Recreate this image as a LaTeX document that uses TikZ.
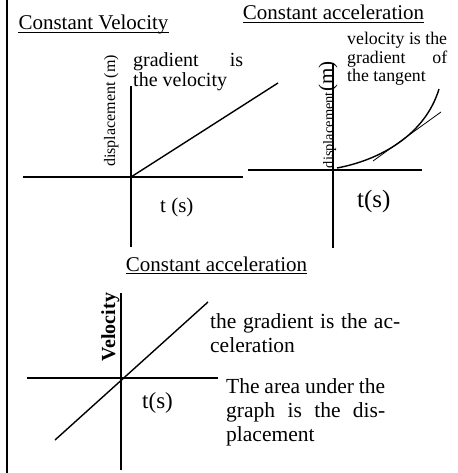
\documentclass[tikz,border=0pt]{standalone}
\usepackage{fontspec}
\setmainfont{Liberation Serif}
\usetikzlibrary{positioning}
\newcommand{\fs}[1]{\fontsize{#1}{#1}\selectfont}
\newcommand{\fillline}[2]{\hbox to #1{#2}}
\tikzset{
  title/.style={inner sep=0pt, anchor=base, font=\fs{21}},
  note/.style={inner sep=0pt, anchor=base west, align=left, font=\fs{#1}},
  note/.default={20},
  axlabel/.style={inner sep=0pt, anchor=base west, font=\fs{#1}},
  axlabel/.default={21},
  vlabel/.style={inner sep=0pt, anchor=base, rotate=90, font=\fs{#1}},
  vlabel/.default={16},
  uline/.style={line width=0.9pt},
  axis/.style={line width=1.8pt},
  graph/.style={line width=1.4pt},
  tangent/.style={line width=0.8pt}
}
\begin{document}
\begin{tikzpicture}[x=1pt,y=-1pt]
  \useasboundingbox (0,0) rectangle (457,473);
  \draw[line width=2.5pt] (7,0) -- (7,473);
  % constant velocity
  \node[title] (t1) at (93.5,30) {Constant Velocity};
  \draw[uline] ([yshift=-2.5pt]t1.base west) -- ([yshift=-2.5pt]t1.base east);
  \draw[axis] (23,177) -- (243,177);
  \draw[axis] (131,86) -- (131,247);
  \draw[graph] (131,177) -- (278,83);
  \node[vlabel] (d1) at (115,111) {displacement (m)};
  \node[note] (n1) at (133,87) {\fillline{110pt}{gradient\hfill is}\\the velocity};
  \node[axlabel] (x1) at (160,212) {t (s)};
  % constant acceleration, displacement
  \node[title] (t2) at (333.5,20) {Constant acceleration};
  \draw[uline] ([yshift=-2.5pt]t2.base west) -- ([yshift=-2.5pt]t2.base east);
  \draw[axis] (248,170) -- (422,170);
  \draw[axis] (333,63) -- (333,248);
  \draw[graph] (337,168) .. controls (380,160) and (425,135) .. (439,89);
  \draw[tangent] (373,161) -- (441,112);
  \node[vlabel, anchor=base east, font=\fs{14.4}] (d2) at (333,92) {displacement};
  \node[vlabel, anchor=base west, font=\fs{21}] (m2) at (d2.base east) {(m)};
  \node[note=17.8] (n2) at (347,82) {velocity is the\\[0.7pt]\fillline{100pt}{gradient\hfill of}\\[0.7pt]the tangent};
  \node[axlabel=25] (x2) at (357,207) {t(s)};
  % constant acceleration, velocity
  \node[title] (t3) at (216.5,271) {Constant acceleration};
  \draw[uline] ([yshift=-2.5pt]t3.base west) -- ([yshift=-2.5pt]t3.base east);
  \draw[axis] (27,378) -- (218,378);
  \draw[axis] (121,293) -- (121,470);
  \draw[graph] (55,440) -- (208,302);
  \node[vlabel, font=\fs{20}\bfseries] (v3) at (115,327) {Velocity};
  \node[note=21.5] (n3) at (210,352) {\fillline{190pt}{the\hfill gradient\hfill is\hfill the\hfill ac-}\\[2.5pt]celeration};
  \node[note=21.5] (n4) at (226,441) {\fillline{159pt}{The\hfill area\hfill under\hfill the}\\[2.5pt]\fillline{159pt}{graph\hfill is\hfill the\hfill dis-}\\[2.5pt]placement};
  \node[axlabel=23] (x3) at (142,408) {t(s)};
\end{tikzpicture}
\end{document}
